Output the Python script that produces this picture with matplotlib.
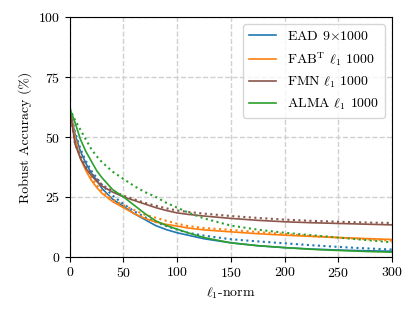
import numpy as np
import matplotlib
matplotlib.use("Agg")
import matplotlib.pyplot as plt

plt.rcParams["font.family"] = ["cmr10", "DejaVu Serif"]
plt.rcParams["mathtext.fontset"] = "cm"
plt.rcParams["axes.formatter.use_mathtext"] = True
plt.rcParams["font.size"] = 10

# l1-norm budget (x) and robust accuracy (%)
eps = [0, 5, 10, 15, 20, 25, 30, 40, 50, 60, 70, 80, 90, 100, 110,
       125, 150, 175, 200, 225, 250, 275, 300]

ead = [62, 51, 44, 39, 35, 32, 28.5, 24, 21, 18, 15.5, 13, 11.3, 10, 9,
       7.5, 5.8, 4.6, 3.8, 3.2, 2.8, 2.5, 2.3]
ead_dot = [62, 52, 45, 40, 36, 33, 30, 25.5, 22, 19, 16.5, 14.5, 12.8, 11.3, 10,
           8.8, 7.3, 6.4, 5.6, 4.8, 4.1, 3.5, 3.0]
fab = [62, 49, 41, 36, 32, 29, 26.5, 23, 20.5, 18, 16, 14.5, 13.5, 12.8, 12,
       11.2, 10.4, 9.6, 9, 8.5, 8, 7.6, 7.2]
fab_dot = [62, 50, 42, 37, 33, 30, 27.5, 24, 21.5, 19.5, 17.5, 16.3, 15, 13.8, 12.8,
           12, 11.2, 10.3, 9.5, 8.6, 8, 7.3, 6.7]
fmn = [62, 47, 41, 37, 34, 31.5, 29.5, 27, 25, 23.5, 22, 20.5, 19.3, 18.3, 17.7,
       17, 16, 15.2, 14.6, 14.2, 13.9, 13.6, 13.3]
fmn_dot = [62, 47, 42, 37.5, 35, 32.5, 30, 27.5, 25.5, 24, 22.5, 21.3, 20.2, 19.3, 18.7,
           18, 17, 16.2, 15.5, 15, 14.6, 14.3, 14.1]
alma = [62, 56, 49, 44, 40, 36, 33, 28, 25, 21.5, 18, 15, 13, 11.5, 10,
        8, 5.8, 4.6, 3.8, 3.1, 2.6, 2.2, 1.9]
alma_dot = [62, 57, 53, 49, 45, 42, 39.5, 35.5, 32.5, 29.5, 27, 25, 22.5, 20.5, 18.5,
            16, 13, 11.3, 10, 9, 8, 7, 6]

labels = [r"EAD $9{\times}1000$", r"FAB$^{\mathrm{T}}$ $\ell_1$ 1000",
          r"FMN $\ell_1$ 1000", r"ALMA $\ell_1$ 1000"]
colors = ["#1f77b4", "#ff7f0e", "#8c564b", "#2ca02c"]
solid = [ead, fab, fmn, alma]
dotted = [ead_dot, fab_dot, fmn_dot, alma_dot]

fig = plt.figure(figsize=(4.15, 3.15), dpi=100)
ax = fig.add_axes([0.168, 0.185, 0.777, 0.76])

for s, d, c, lab in zip(solid, dotted, colors, labels):
    ax.plot(eps, s, color=c, lw=1.2, label=lab)
    ax.plot(eps, d, color=c, lw=1.5, ls=":")

ax.set_xlim(0, 300)
ax.set_ylim(0, 100)
ax.set_xticks([0, 50, 100, 150, 200, 250, 300])
ax.set_yticks([0, 25, 50, 75, 100])
ax.grid(True, ls="--", color="#d0d0d0", lw=1)
ax.set_axisbelow(True)
ax.set_xlabel(r"$\ell_1$-norm")
ax.set_ylabel("Robust Accuracy (%)")
ax.legend(loc="upper right", handlelength=2.0, framealpha=0.8)

fig.savefig("out.png", dpi=100)
